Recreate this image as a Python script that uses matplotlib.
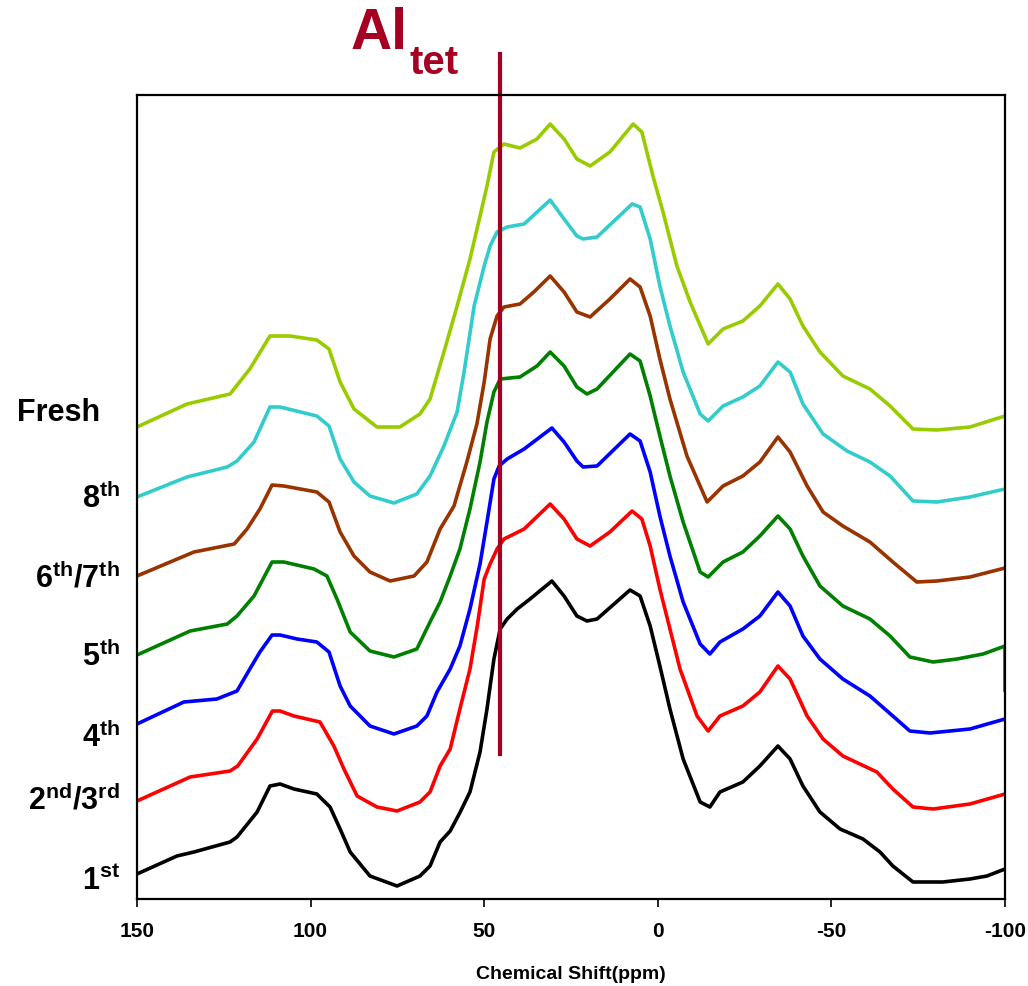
import matplotlib
matplotlib.use("Agg")
import matplotlib.pyplot as plt
import numpy as np

plt.rcParams['font.family'] = ['Liberation Sans', 'DejaVu Sans']
plt.rcParams['mathtext.fontset'] = 'custom'
plt.rcParams['mathtext.rm'] = 'Liberation Sans'
plt.rcParams['mathtext.bf'] = 'Liberation Sans:bold'
plt.rcParams['axes.unicode_minus'] = False

# stacked 27Al NMR traces (intensity includes the stacking offset)
ppm_1st = [150, 138.5, 133.6, 123.2, 121.2, 115.4, 111.7, 108.8, 104.8, 98.2, 94.4, 91.5, 88.6, 82.9,
           75.1, 68.5, 65.6, 62.7, 59.8, 56.9, 54.1, 51.2, 49.2, 47.2, 45.4, 43.4, 40.5, 36.8, 30.5,
           27.0, 23.3, 20.4, 17.5, 8.0, 5.1, 2.2, -0.6, -3.5, -7.3, -12.2, -15.0, -17.9, -24.5, -29.4,
           -34.6, -38.1, -41.8, -46.7, -52.5, -59.1, -64.0, -67.7, -73.5, -82.1, -89.9, -94.8, -100]
int_1st = [25, 43, 47, 57, 62, 87, 113, 115, 110, 105, 92, 70, 47, 23,
           13, 23, 33, 57, 68, 87, 107, 147, 190, 240, 270, 280, 290, 300, 318,
           303, 283, 278, 280, 309, 303, 273, 233, 190, 140, 97, 92, 107, 117, 133,
           153, 140, 113, 87, 70, 60, 47, 33, 17, 17, 20, 23, 30]

ppm_2nd = [150, 134.7, 123.2, 121, 115.4, 111, 108.8, 104.8, 97.3, 93.3, 90.4, 86.6, 80.9, 75.1,
           68.5, 65.6, 62.7, 59.8, 57, 54.1, 52, 50, 48.3, 46.3, 44.3, 38.5, 31, 27, 23.3, 19.5,
           13.8, 7.4, 4.6, 2.2, -0.6, -3.5, -6.4, -11.3, -14.5, -17.9, -24.5, -29.4, -34.6, -38.1,
           -43, -47.6, -53.3, -63.1, -67.7, -73.5, -79.3, -89.9, -100]
int_2nd = [98, 122, 128, 133, 160, 188, 188, 183, 177, 153, 130, 103, 92, 88,
           97, 107, 133, 150, 190, 230, 273, 320, 335, 350, 360, 370, 395, 380, 360, 353,
           367, 388, 380, 353, 310, 270, 230, 183, 168, 183, 193, 207, 233, 220,
           183, 160, 143, 127, 110, 92, 90, 95, 105]

ppm_4th = [150, 136.5, 127, 121.2, 117.5, 114.6, 111.1, 108.8, 103.9, 98.2, 94.7, 91.5, 88.6, 82.9,
           76, 69.4, 66.5, 63.6, 59.8, 57, 54.1, 51.2, 49.2, 47.2, 45.7, 43.4, 38.5, 30.5, 27, 23.3,
           21.5, 17.5, 8.0, 5.1, 2.2, -0.6, -3.5, -7.3, -12.2, -15, -17.9, -24.5, -29.4, -34.6,
           -38.1, -41.8, -46.7, -53.3, -61.1, -67.7, -72.6, -78.4, -89.9, -100]
int_4th = [175, 197, 200, 208, 230, 247, 264, 264, 260, 257, 247, 213, 193, 173,
           165, 173, 183, 207, 230, 253, 290, 335, 377, 420, 433, 440, 450, 471, 457, 438,
           432, 433, 465, 458, 427, 383, 343, 297, 255, 245, 257, 270, 283, 307,
           293, 263, 240, 220, 203, 183, 168, 166, 170, 180]

ppm_5th = [150, 134.7, 124, 121.2, 116.3, 111.1, 107.7, 99, 95.3, 92.4, 88.6, 82.9, 76, 69.4,
           65.6, 62.7, 59.8, 57, 54.1, 51.2, 49.2, 47.2, 45.4, 39.7, 34.8, 31, 27, 23.3, 20.4,
           17.5, 8.0, 5.1, 2.2, -0.6, -3.5, -7.3, -12.2, -14.5, -18.8, -24.5, -29.4, -34.6, -38.1,
           -41.8, -46.7, -53.3, -61.1, -66.9, -72.6, -79.3, -86.2, -93.7, -100, -100]
int_5th = [244, 268, 275, 283, 303, 337, 337, 330, 323, 300, 267, 248, 242, 250,
           277, 297, 323, 350, 390, 437, 477, 507, 520, 522, 533, 547, 533, 512, 505,
           510, 545, 538, 503, 463, 423, 377, 327, 322, 337, 347, 363, 383, 370,
           343, 313, 293, 280, 263, 242, 237, 240, 245, 253, 208]

ppm_6th = [150, 133.6, 122, 118.3, 114.6, 111.1, 107.7, 98.2, 94.7, 91.5, 87.5, 82.9, 77.1, 70.2,
           66.5, 62.7, 58.7, 55, 52.1, 50, 48.3, 46.3, 44.3, 39.7, 35.7, 31, 27, 23.3, 19.5, 13.8,
           8, 5.1, 2.2, -0.6, -3.5, -8.4, -14.2, -18.8, -24.5, -29.4, -34.6, -38.1, -43, -47.6,
           -53.3, -61.1, -67.7, -74.6, -80.4, -89.9, -100]
int_6th = [323, 347, 355, 370, 390, 414, 413, 407, 397, 367, 343, 327, 318, 323,
           337, 370, 393, 437, 475, 517, 560, 583, 592, 595, 607, 623, 607, 587, 582, 600,
           620, 612, 583, 540, 500, 443, 397, 413, 423, 437, 462, 447, 413, 387,
           373, 357, 337, 317, 318, 322, 331]

ppm_8th = [150, 135.6, 124, 121.2, 116.3, 111.7, 108.8, 98.2, 94.7, 91.5, 87.5, 82.9, 76, 69.4,
           65.6, 61.6, 57.8, 55.8, 52.9, 50, 48.3, 46.3, 43.4, 38.5, 31, 27, 23.3, 21.5, 17.5,
           7.4, 5.1, 2.2, -0.6, -3.5, -7.3, -12.2, -14.5, -18.8, -24.5, -29.4, -34.6, -38.1,
           -41.8, -47.6, -54.5, -61.1, -66.9, -73.5, -80.4, -89.9, -100]
int_8th = [402, 422, 432, 438, 457, 492, 492, 483, 473, 440, 417, 403, 396, 405,
           423, 453, 487, 527, 593, 633, 653, 667, 672, 675, 699, 680, 663, 660, 662,
           695, 692, 660, 613, 573, 527, 485, 478, 493, 502, 513, 537, 527,
           495, 465, 448, 437, 423, 398, 397, 402, 410]

ppm_fresh = [150, 135.6, 123.2, 117.5, 111.7, 105.9, 98.2, 94.7, 91.5, 87.5, 80.9, 74.3, 68.5, 65.6,
             61.6, 57.8, 54.1, 51.2, 49.2, 47.2, 44.3, 39.7, 34.8, 31, 27, 23.3, 19.5, 13.8, 7.1,
             4.6, 1.4, -1.5, -5.5, -9.3, -14.5, -18.8, -24.5, -29.4, -34.6, -38.1, -41.8, -46.7,
             -53.3, -61.1, -66.9, -73.5, -80.4, -89.9, -100]
int_fresh = [472, 495, 505, 530, 563, 563, 559, 550, 517, 490, 472, 472, 485, 500,
             547, 593, 640, 683, 713, 747, 755, 751, 760, 775, 760, 740, 733, 747, 775,
             767, 723, 687, 633, 597, 555, 570, 578, 593, 615, 600, 573, 547,
             523, 510, 493, 470, 469, 472, 483]

series = [
    (ppm_1st, int_1st, 'black'),
    (ppm_2nd, int_2nd, '#FF0000'),
    (ppm_4th, int_4th, '#0000FF'),
    (ppm_5th, int_5th, '#008000'),
    (ppm_6th, int_6th, '#993300'),
    (ppm_8th, int_8th, '#33CCCC'),
    (ppm_fresh, int_fresh, '#99CC00'),
]
labels = [r'$\mathbf{1^{st}}$', r'$\mathbf{2^{nd}/3^{rd}}$', r'$\mathbf{4^{th}}$', r'$\mathbf{5^{th}}$',
          r'$\mathbf{6^{th}/7^{th}}$', r'$\mathbf{8^{th}}$', 'Fresh']
label_y = [890, 810, 747, 666, 587, 508, 421]   # baselines, pixels from top
label_x = [120, 120, 120, 120, 120, 120, 100]

al_tet = 45.4
al_color = '#A50021'

W, H = 1028, 987
fig = plt.figure(figsize=(W / 100, H / 100), dpi=100)
ax = fig.add_axes([137 / W, 1 - 900 / H, (1005 - 137) / W, (900 - 96) / H])

for x, y, c in series:
    ax.plot(x, y, color=c, lw=2.6, solid_joinstyle='round', solid_capstyle='round')

ax.set_xlim(150, -100)
ax.set_ylim(0, 804)
ax.set_xticks([150, 100, 50, 0, -50, -100])
ax.set_yticks([])
ax.tick_params(axis='x', direction='out', length=6, width=1.2, pad=10, labelsize=15)
for t in ax.get_xticklabels():
    t.set_fontweight('bold')
for s in ax.spines.values():
    s.set_linewidth(1.6)
ax.set_xlabel('Chemical Shift(ppm)', fontsize=14, fontweight='bold', labelpad=18)

# Al(tet) marker line, runs above the frame
ax.plot([al_tet, al_tet], [145, 845], color=al_color, lw=3, clip_on=False)
fig.text(351 / W, 1 - 49 / H, 'Al', color=al_color, fontsize=41, fontweight='bold', va='baseline')
fig.text(410 / W, 1 - 74 / H, 'tet', color=al_color, fontsize=29, fontweight='bold', va='baseline')

for lab, ly, lx in zip(labels, label_y, label_x):
    fig.text(lx / W, 1 - ly / H, lab, fontsize=22, fontweight='bold', ha='right', va='baseline')

fig.savefig('out.png', dpi=100)
